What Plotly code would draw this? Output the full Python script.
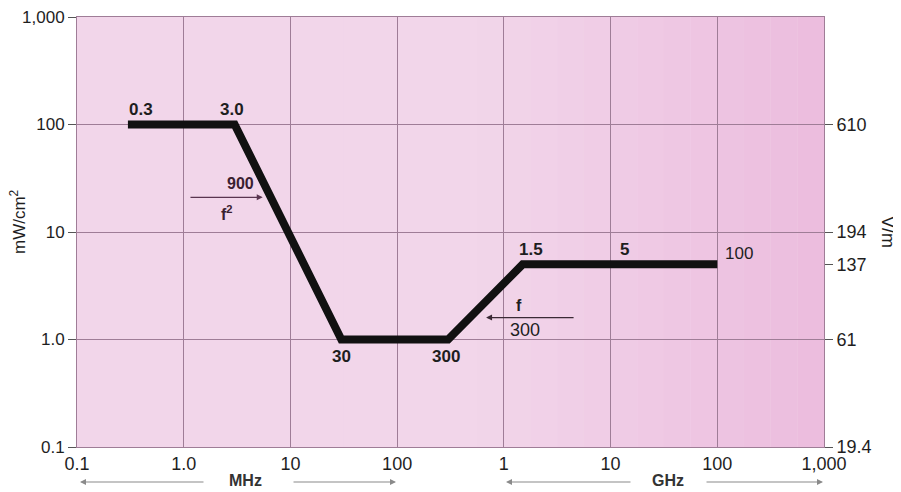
import plotly.graph_objects as go
import math

# ---- data ----
freq_mhz = [0.3, 3.0, 30, 300, 1500, 100000]          # frequency (MHz)
power_density = [100, 100, 1.0, 1.0, 5, 5]             # mW/cm^2

x_tick_vals = [0.1, 1, 10, 100, 1000, 10000, 100000, 1000000]
x_tick_text = ["0.1", "1.0", "10", "100", "1", "10", "100", "1,000"]
y_tick_vals = [0.1, 1, 10, 100, 1000]
y_tick_text = ["0.1", "1.0", "10", "100", "1,000"]
y2_tick_vals = [100, 10, 5, 1, 0.1]
y2_tick_text = ["610", "194", "137", "61", "19.4"]

point_labels = ["0.3", "3.0", "30", "300", "1.5", "5", "100"]
point_label_x = [0.3, 3.0, 30, 300, 1500, 14000, 100000]
point_label_y = [100, 100, 1.0, 1.0, 5, 5, 5]

FONT = "Liberation Sans, Arial, sans-serif"
grid_c = "#9f7d97"
TXT = "#1e1e1e"

fig = go.Figure()
fig.add_trace(go.Scatter(x=freq_mhz, y=power_density, mode="lines",
                         line=dict(color="#111111", width=8),
                         hoverinfo="skip", showlegend=False))
# dummy trace for right axis
fig.add_trace(go.Scatter(x=[0.1], y=[0.1], yaxis="y2", mode="markers",
                         marker=dict(opacity=0), showlegend=False, hoverinfo="skip"))

# background gradient strips (pinker toward the right)
n = 28
for i in range(n):
    a = -1 + 7 * i / n
    b = -1 + 7 * (i + 1) / n
    t = (i + 0.5) / n
    t2 = max(0.0, (t - 0.55) / 0.45)
    r = int(242 - 6 * t2)
    g = int(214 - 26 * t2)
    bl = int(234 - 12 * t2)
    fig.add_shape(type="rect", xref="x", yref="paper", x0=10 ** a, x1=10 ** b,
                  y0=0, y1=1, fillcolor=f"rgb({r},{g},{bl})", line_width=0, layer="below")

ann = []
# (xshift, yshift) in pixels
offsets = {"0.3": (13, 15), "3.0": (-3, 15), "30": (0, -17), "300": (-2, -17),
           "1.5": (8, 15), "5": (-2, 15), "100": (22, 11)}
for lab, x, y in zip(point_labels, point_label_x, point_label_y):
    dx, dy = offsets[lab]
    txt = "<b>" + lab + "</b>" if lab != "100" else lab
    ann.append(dict(x=math.log10(x), y=math.log10(y), xref="x", yref="y", text=txt,
                    showarrow=False, xshift=dx, yshift=dy,
                    font=dict(family=FONT, size=17, color=TXT)))

# 900/f^2 arrow
ann.append(dict(x=math.log10(5.5), y=math.log10(21), ax=math.log10(1.12), ay=math.log10(21),
                xref="x", yref="y", axref="x", ayref="y", text="", showarrow=True,
                arrowhead=2, arrowsize=1, arrowwidth=1.2, arrowcolor="#5a3550"))
ann.append(dict(x=math.log10(3.37), y=math.log10(21), xref="x", yref="y", text="<b>900</b>",
                showarrow=False, yshift=14, font=dict(family=FONT, size=16, color="#3a2030")))
ann.append(dict(x=math.log10(2.55), y=math.log10(21), xref="x", yref="y", text="<b>f<sup>2</sup></b>",
                showarrow=False, yshift=-16, font=dict(family=FONT, size=16, color="#3a2030")))
# f/300 arrow
ann.append(dict(x=math.log10(681), y=math.log10(1.6), ax=math.log10(4650), ay=math.log10(1.6),
                xref="x", yref="y", axref="x", ayref="y", text="", showarrow=True,
                arrowhead=2, arrowsize=1, arrowwidth=1.2, arrowcolor="#3a2a35"))
ann.append(dict(x=math.log10(1390), y=math.log10(1.6), xref="x", yref="y", text="<b>f</b>",
                showarrow=False, yshift=12, font=dict(family=FONT, size=16, color=TXT)))
ann.append(dict(x=math.log10(1580), y=math.log10(1.6), xref="x", yref="y", text="300",
                showarrow=False, yshift=-12, font=dict(family=FONT, size=18, color=TXT)))

# bottom unit labels with arrows
TOP, BOT = 17, 447
PW, PH = 747.0, float(BOT - TOP)
for text, xc in [("<b>MHz</b>", 245), ("<b>GHz</b>", 668)]:
    ann.append(dict(x=(xc - 77) / PW, y=(BOT - 480) / PH, xref="paper", yref="paper", text=text,
                    xanchor="center", yanchor="middle",
                    showarrow=False, font=dict(family=FONT, size=16, color="#333333")))
for x0, x1 in [(205, 80), (292, 396), (632, 506), (705, 823)]:
    ann.append(dict(x=(x1 - 77) / PW, y=(BOT - 482) / PH, ax=x0 - x1, ay=0,
                    xref="paper", yref="paper", text="",
                    showarrow=True, arrowhead=2, arrowsize=1, arrowwidth=1.2, arrowcolor="#8a8a8a"))

ann.append(dict(x=(18 - 77) / PW, y=(BOT - 222) / PH, xref="paper", yref="paper", text="mW/cm<sup>2</sup>",
                xanchor="center", yanchor="middle",
                textangle=-90, showarrow=False, font=dict(family=FONT, size=17, color=TXT)))
ann.append(dict(x=(888 - 77) / PW, y=(BOT - 232) / PH, xref="paper", yref="paper", text="V/m",
                xanchor="center", yanchor="middle",
                textangle=90, showarrow=False, font=dict(family=FONT, size=18, color=TXT)))

fig.update_layout(
    width=893, height=484,
    margin=dict(l=69, r=77, t=TOP - 8, b=8 + 484 - BOT, autoexpand=False),
    paper_bgcolor="white", plot_bgcolor="#f2d6ea",
    annotations=ann,
    xaxis=dict(type="log", range=[-1, 6], tickvals=x_tick_vals, ticktext=x_tick_text,
               showgrid=True, gridcolor=grid_c, gridwidth=1, zeroline=False,
               showline=True, linecolor=grid_c, mirror=True, ticks="", automargin=False,
               ticklabeloverflow="allow",
               tickfont=dict(family=FONT, size=18, color=TXT)),
    yaxis=dict(type="log", range=[-1, 3], tickvals=y_tick_vals, ticktext=y_tick_text,
               showgrid=True, gridcolor=grid_c, gridwidth=1, zeroline=False,
               showline=True, linecolor=grid_c, mirror=True, automargin=False,
               ticklabeloverflow="allow",
               ticks="outside", ticklen=8, tickcolor="#555555",
               tickfont=dict(family=FONT, size=17, color=TXT)),
    yaxis2=dict(type="log", range=[-1, 3], overlaying="y", side="right",
                tickvals=y2_tick_vals, ticktext=y2_tick_text, showgrid=False, automargin=False,
                ticklabeloverflow="allow",
                ticks="outside", ticklen=8, tickcolor="#555555", zeroline=False,
                tickfont=dict(family=FONT, size=18, color=TXT)),
)

fig.write_html("out.html")
